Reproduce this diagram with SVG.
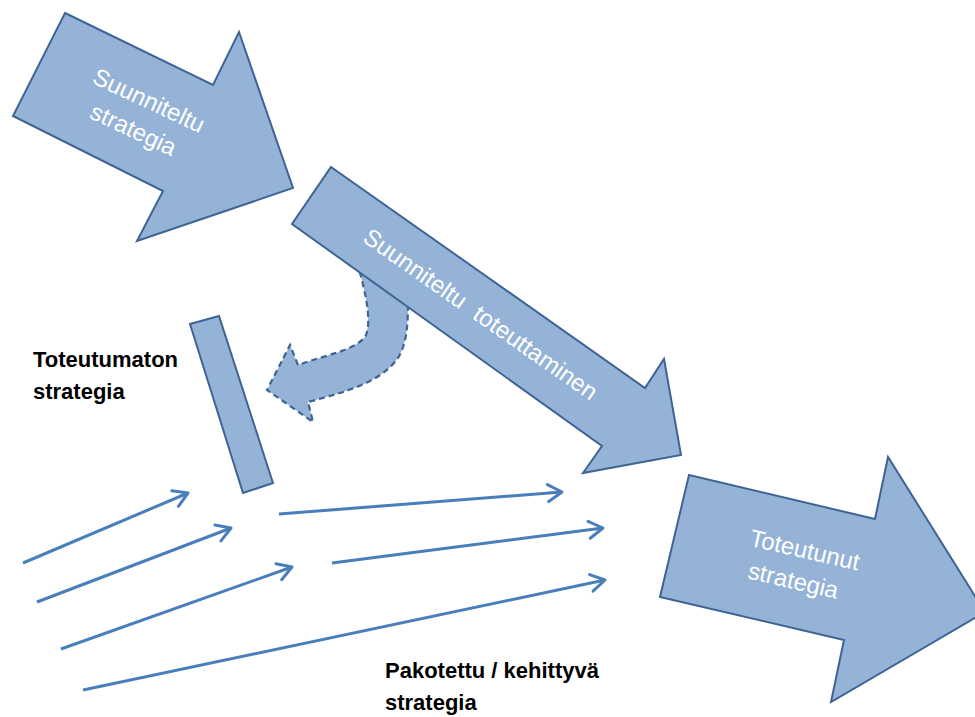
<svg xmlns="http://www.w3.org/2000/svg" width="975" height="717" viewBox="0 0 975 717">
<style>
.blk{fill:#95b3d7;stroke:#3e6494;stroke-width:2;stroke-linejoin:miter}
.dash{fill:#95b3d7;stroke:#3e6494;stroke-width:2.2;stroke-dasharray:6 4}
.wt{font-family:"Liberation Sans",Arial,sans-serif;font-size:24px;fill:#ffffff;text-anchor:middle}
.lbl{font-family:"Liberation Sans",Arial,sans-serif;font-size:22px;font-weight:bold;fill:#000000}
.ln{fill:none;stroke:#4a7ebb;stroke-width:3;marker-end:url(#chev)}
</style>
<defs>
<marker id="chev" markerUnits="userSpaceOnUse" viewBox="-17 -11 21 22" refX="0" refY="0" markerWidth="21" markerHeight="22" orient="auto">
<path d="M-14,-8.5 L0,0 L-14,8.5" fill="none" stroke="#4a7ebb" stroke-width="3" stroke-linejoin="round" stroke-linecap="round"/>
</marker>
</defs>
<rect width="975" height="717" fill="#ffffff"/>
<g id="unrealized-turn">
<path class="dash" d="M357,262 C365,290 372,320 366,335 C358,350 325,355 298,365 L290,345 L267,390 L313,422 L308,402 C345,392 380,383 398,358 C407,343 408,325 408,300 Z"/>
</g>
<g id="planned-strategy">
<polygon class="blk" points="65,13 213,85 239,32 293,188 137,241 163,191 13,116"/>
<text class="wt" transform="translate(145.5,108) rotate(25)">Suunniteltu</text>
<text class="wt" transform="translate(130,137) rotate(25)">strategia</text>
</g>
<g id="planned-implementation">
<polygon class="blk" points="331,167 645,388 664,359 681,455 583,473 602,446 292,224"/>
<text class="wt" transform="translate(476,321) rotate(35)">Suunniteltu<tspan dx="14">toteuttaminen</tspan></text>
</g>
<g id="unrealized-bar">
<polygon class="blk" points="190,324 219,316 273,483 243,493"/>
</g>
<g id="unrealized-label">
<text class="lbl" x="33" y="367">Toteutumaton</text>
<text class="lbl" x="33" y="399">strategia</text>
</g>
<g id="realized-strategy">
<polygon class="blk" points="689,475 875,519 888,457 985,612 831,702 844,640 660,597"/>
<text class="wt" transform="translate(803,558) rotate(13)">Toteutunut</text>
<text class="wt" transform="translate(791.5,588.5) rotate(13)">strategia</text>
</g>
<g id="emergent-label">
<text class="lbl" x="385" y="678">Pakotettu / kehittyvä</text>
<text class="lbl" x="385" y="710">strategia</text>
</g>
<g id="connectors">
<line class="ln" x1="23" y1="563" x2="188" y2="493"/>
<line class="ln" x1="37" y1="602" x2="231" y2="528"/>
<line class="ln" x1="61" y1="649" x2="292" y2="567"/>
<line class="ln" x1="83" y1="690" x2="605" y2="580"/>
<line class="ln" x1="279" y1="514" x2="562" y2="492"/>
<line class="ln" x1="332" y1="563" x2="603" y2="528"/>
</g>
</svg>
